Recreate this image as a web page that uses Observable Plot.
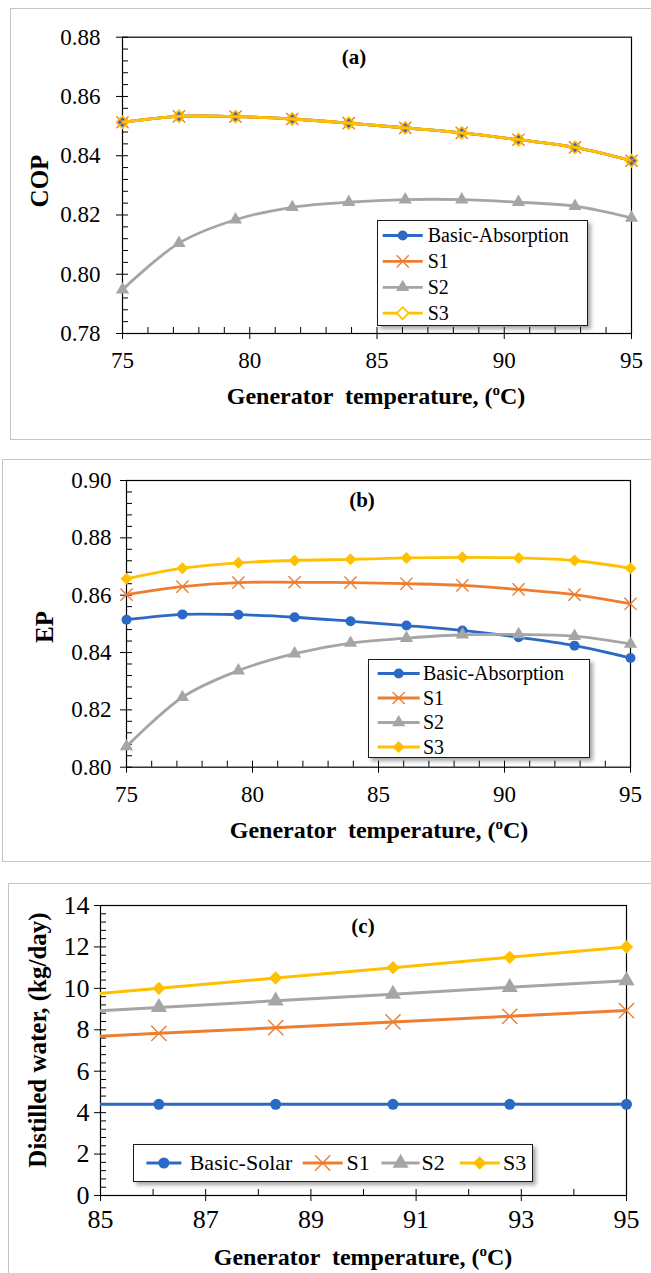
<!DOCTYPE html>
<html><head><meta charset="utf-8">
<script src="https://cdn.jsdelivr.net/npm/d3@7"></script>
<script src="https://cdn.jsdelivr.net/npm/@observablehq/plot@0.6"></script>
<style>
body{margin:0;background:#fff;}
#root{position:relative;width:651px;height:1273px;overflow:hidden;font-family:'Liberation Serif','Times New Roman',serif;}
.box{position:absolute;border:1.5px solid #c4c4c4;box-sizing:border-box;}
.abs{position:absolute;left:0;}
.legend{position:absolute;background:#fff;border:1.5px solid #1a1a1a;box-shadow:3px 3px 4px rgba(0,0,0,0.35);box-sizing:border-box;}
</style></head><body><div id="root"></div>
<script>
// ---------- data ----------
const tempAB = [75, 77.22, 79.44, 81.67, 83.89, 86.11, 88.33, 90.56, 92.78, 95];
const tempC = [83.89, 86.11, 88.33, 90.56, 92.78, 95];

const namesAB = ["Basic-Absorption", "S1", "S2", "S3"];
const namesC = ["Basic-Solar", "S1", "S2", "S3"];
const colors = ["#2a6ac4", "#ed7d31", "#a5a5a5", "#ffc000"];
const symbols = ["circle", "times", "triangle", "diamond2"];

// (a) COP
const copBasic = [0.8513, 0.8533, 0.8532, 0.8524, 0.8510, 0.8494, 0.8477, 0.8454, 0.8428, 0.8383];
const copS1    = [0.8513, 0.8533, 0.8532, 0.8524, 0.8510, 0.8494, 0.8477, 0.8454, 0.8428, 0.8383];
const copS2    = [0.7948, 0.8105, 0.8184, 0.8226, 0.8243, 0.8252, 0.8252, 0.8243, 0.8230, 0.8190];
const copS3    = [0.8513, 0.8533, 0.8532, 0.8524, 0.8510, 0.8494, 0.8477, 0.8454, 0.8428, 0.8383];

// (b) EP
const epBasic = [0.8514, 0.8533, 0.8532, 0.8523, 0.8509, 0.8494, 0.8477, 0.8453, 0.8424, 0.8381];
const epS1    = [0.8602, 0.8630, 0.8644, 0.8645, 0.8644, 0.8640, 0.8634, 0.8620, 0.8602, 0.8570];
const epS2    = [0.8072, 0.8244, 0.8337, 0.8396, 0.8433, 0.8450, 0.8462, 0.8463, 0.8457, 0.8430];
const epS3    = [0.8657, 0.8694, 0.8713, 0.8721, 0.8725, 0.8730, 0.8732, 0.8730, 0.8721, 0.8694];

// (c) Distilled water (kg/day)
const waterBasic = [4.4, 4.4, 4.4, 4.4, 4.4, 4.4];
const waterS1    = [7.56, 7.83, 8.10, 8.38, 8.65, 8.93];
const waterS2    = [8.76, 9.08, 9.40, 9.72, 10.05, 10.37];
const waterS3    = [9.5, 10.0, 10.5, 11.0, 11.5, 12.0];

// ticks
const yTicksA = [0.78, 0.80, 0.82, 0.84, 0.86, 0.88];
const yTicksB = [0.80, 0.82, 0.84, 0.86, 0.88, 0.90];
const yTicksC = [0, 2, 4, 6, 8, 10, 12, 14];
const xTicksAB = [75, 80, 85, 90, 95];
const xTicksC = [85, 87, 89, 91, 93, 95];

// ---------- helpers ----------
const root = document.getElementById("root");
const FONT = "'Liberation Serif','Times New Roman',serif";

function addBox(l, t, w, h) {
  const d = document.createElement("div");
  d.className = "box";
  Object.assign(d.style, {left: l + "px", top: t + "px", width: w + "px", height: h + "px"});
  root.appendChild(d);
}

function minorTicks(lo, hi, step, majors) {
  return d3.range(0, Math.round((hi - lo) / step) + 1)
    .map(i => +(lo + i * step).toFixed(6))
    .filter(v => !majors.some(m => Math.abs(m - v) < step / 10));
}

function dotOpts(k, mk, hollowS3) {
  if (k === 0) return {fill: colors[0], stroke: "none", r: mk[0]};
  if (k === 1) return {fill: "none", stroke: colors[1], strokeWidth: 1.4, r: mk[1]};
  if (k === 2) return {fill: colors[2], stroke: "none", r: mk[2]};
  return hollowS3 ? {fill: "none", stroke: colors[3], strokeWidth: 1.7, r: mk[3]}
                  : {fill: colors[3], stroke: "none", r: mk[3]};
}

function makePanel(cfg) {
  const {top, height, m, xDomain, yDomain, xs, vals, curve, xMajor, xMinor, yMajor, yMinor,
         yFmt, tickFont, yPad, xPad, mk, hollowS3, lw} = cfg;
  const marks = [
    Plot.axisY(yMinor, {tickSize: -6, tickFormat: () => "", label: null}),
    Plot.axisY(yMajor, {tickSize: -6, tickFormat: () => "", label: null}),
    Plot.axisY(yMajor, {tickSize: 6, tickPadding: yPad, tickFormat: yFmt, label: null, fontSize: tickFont}),
    Plot.axisX(xMinor, {tickSize: -6, tickFormat: () => "", label: null}),
    Plot.axisX(xMajor, {tickSize: -6, tickFormat: () => "", label: null}),
    Plot.axisX(xMajor, {tickSize: 6, tickPadding: xPad, label: null, fontSize: tickFont}),
    Plot.frame({stroke: "black", strokeWidth: 1.2})
  ];
  vals.forEach((v, k) => {
    const d = xs.map((x, i) => ({x, y: v[i]}));
    marks.push(Plot.line(d, {x: "x", y: "y", stroke: colors[k], strokeWidth: lw, curve, clip: true}));
    const dd = d.filter(r => r.x >= xDomain[0] - 1e-9);
    marks.push(Plot.dot(dd, {x: "x", y: "y", symbol: symbols[k], ...dotOpts(k, mk, hollowS3)}));
  });
  const svg = Plot.plot({
    width: 651, height,
    marginTop: m[0], marginRight: m[1], marginBottom: m[2], marginLeft: m[3],
    x: {domain: xDomain, label: null},
    y: {domain: yDomain, label: null},
    style: {fontFamily: FONT, fontSize: tickFont + "px", color: "black", background: "transparent", overflow: "visible"},
    marks
  });
  svg.classList.add("abs");
  svg.style.top = top + "px";
  root.appendChild(svg);
  const s = d3.select(svg);
  // x title
  const xt = s.append("text").attr("x", cfg.xTitle[0]).attr("y", cfg.xTitle[1])
    .attr("text-anchor", "middle").attr("font-weight", "bold").attr("font-size", 24)
    .attr("fill", "black").style("white-space", "pre").attr("font-family", FONT);
  xt.append("tspan").text("Generator  temperature, (");
  xt.append("tspan").attr("font-size", 15).attr("dy", -9).text("o");
  xt.append("tspan").attr("dy", 9).text("C)");
  // y title
  s.append("text").attr("transform", `translate(${cfg.yTitle[0]},${cfg.yTitle[1]}) rotate(-90)`)
    .attr("text-anchor", "middle").attr("font-weight", "bold").attr("font-size", 25)
    .attr("fill", "black").attr("font-family", FONT).text(cfg.yLabel);
  // panel label
  s.append("text").attr("x", cfg.tag[0]).attr("y", cfg.tag[1]).attr("text-anchor", "middle")
    .attr("font-weight", "bold").attr("font-size", 21).attr("fill", "black")
    .attr("font-family", FONT).text(cfg.tagText);
}

function legendSymbol(g, k, cx, cy, mk, hollowS3, legendWhite) {
  const symMap = {circle: d3.symbolCircle, times: d3.symbolTimes, triangle: d3.symbolTriangle, diamond2: d3.symbolDiamond2};
  const o = dotOpts(k, mk, hollowS3);
  const p = d3.symbol(symMap[symbols[k]], Math.PI * o.r * o.r)();
  g.append("path").attr("d", p).attr("transform", `translate(${cx},${cy})`)
    .attr("fill", (k === 3 && hollowS3) ? "#fff" : o.fill).attr("stroke", o.stroke)
    .attr("stroke-width", o.strokeWidth || 0);
}

function makeLegend(cfg) {
  const {left, top, width, height, items, fontSize, mk, hollowS3, lw} = cfg;
  const div = document.createElement("div");
  div.className = "legend";
  Object.assign(div.style, {left: left + "px", top: top + "px", width: width + "px", height: height + "px"});
  root.appendChild(div);
  const svg = d3.select(div).append("svg").attr("width", width).attr("height", height)
    .style("position", "absolute").style("left", "-1.5px").style("top", "-1.5px");
  items.forEach(it => {
    const g = svg.append("g");
    g.append("line").attr("x1", it.x1).attr("x2", it.x2).attr("y1", it.y).attr("y2", it.y)
      .attr("stroke", colors[it.k]).attr("stroke-width", lw);
    legendSymbol(g, it.k, (it.x1 + it.x2) / 2, it.y, mk, hollowS3);
    g.append("text").attr("x", it.tx).attr("y", it.y + fontSize * 0.33).attr("font-size", fontSize)
      .attr("font-family", FONT).attr("fill", "black").text(it.name);
  });
}

// ---------- boxes ----------
addBox(10, 8, 660, 432);
addBox(2, 459, 668, 403);
addBox(7.5, 883, 663, 420);

const mkAB = [5, 5.6, 4.9, 5.4];
const mkC = [5.5, 7, 6, 6];

// ---------- panel (a) ----------
makePanel({
  top: 0, height: 440, m: [36.7, 20, 107, 122],
  xDomain: [75, 95], yDomain: [0.78, 0.88], xs: tempAB,
  vals: [copBasic, copS1, copS2, copS3], curve: "catmull-rom",
  xMajor: xTicksAB, xMinor: minorTicks(75, 95, 1, xTicksAB),
  yMajor: yTicksA, yMinor: minorTicks(0.78, 0.88, 0.004, yTicksA),
  yFmt: d3.format(".2f"), tickFont: 23, yPad: 16, xPad: 12, mk: mkAB, hollowS3: true, lw: 2.8,
  xTitle: [376, 404], yTitle: [48, 181], yLabel: "COP", tag: [354, 64], tagText: "(a)"
});
makeLegend({
  left: 377.3, top: 220, width: 210.4, height: 106, fontSize: 20, mk: mkAB, hollowS3: true, lw: 2.8,
  items: namesAB.map((name, k) => ({name, k, x1: 5.7, x2: 45.7, tx: 50.7, y: 15.5 + k * 25.9}))
});

// ---------- panel (b) ----------
makePanel({
  top: 450, height: 420, m: [30, 21, 103.3, 126],
  xDomain: [75, 95], yDomain: [0.80, 0.90], xs: tempAB,
  vals: [epBasic, epS1, epS2, epS3], curve: "catmull-rom",
  xMajor: xTicksAB, xMinor: minorTicks(75, 95, 1, xTicksAB),
  yMajor: yTicksB, yMinor: minorTicks(0.80, 0.90, 0.004, yTicksB),
  yFmt: d3.format(".2f"), tickFont: 23, yPad: 9, xPad: 12, mk: mkAB, hollowS3: false, lw: 2.8,
  xTitle: [379, 388], yTitle: [53, 177], yLabel: "EP", tag: [362, 57], tagText: "(b)"
});
makeLegend({
  left: 368.3, top: 659.3, width: 221.7, height: 99, fontSize: 20, mk: mkAB, hollowS3: false, lw: 2.8,
  items: namesAB.map((name, k) => ({name, k, x1: 9.7, x2: 51.7, tx: 55, y: 14.5 + k * 24.5}))
});

// ---------- panel (c) ----------
makePanel({
  top: 875, height: 398, m: [30, 25, 78, 100],
  xDomain: [85, 95], yDomain: [0, 14], xs: tempC,
  vals: [waterBasic, waterS1, waterS2, waterS3], curve: "linear",
  xMajor: xTicksC, xMinor: minorTicks(85, 95, 1, xTicksC),
  yMajor: yTicksC, yMinor: minorTicks(0, 14, 0.4, yTicksC),
  yFmt: d3.format("d"), tickFont: 26, yPad: 5, xPad: 8, mk: mkC, hollowS3: false, lw: 3,
  xTitle: [363, 390], yTitle: [46, 165], yLabel: "Distilled water, (kg/day)", tag: [363, 58], tagText: "(c)"
});
const cX = [[13.4, 48.4, 56.7], [169.7, 209.7, 213.4], [248.4, 286.7, 288.4], [326.7, 366.7, 370]];
makeLegend({
  left: 133.3, top: 1144, width: 400, height: 38, fontSize: 22, mk: mkC, hollowS3: false, lw: 3,
  items: namesC.map((name, k) => ({name, k, x1: cX[k][0], x2: cX[k][1], tx: cX[k][2], y: 19}))
});
</script></body></html>
